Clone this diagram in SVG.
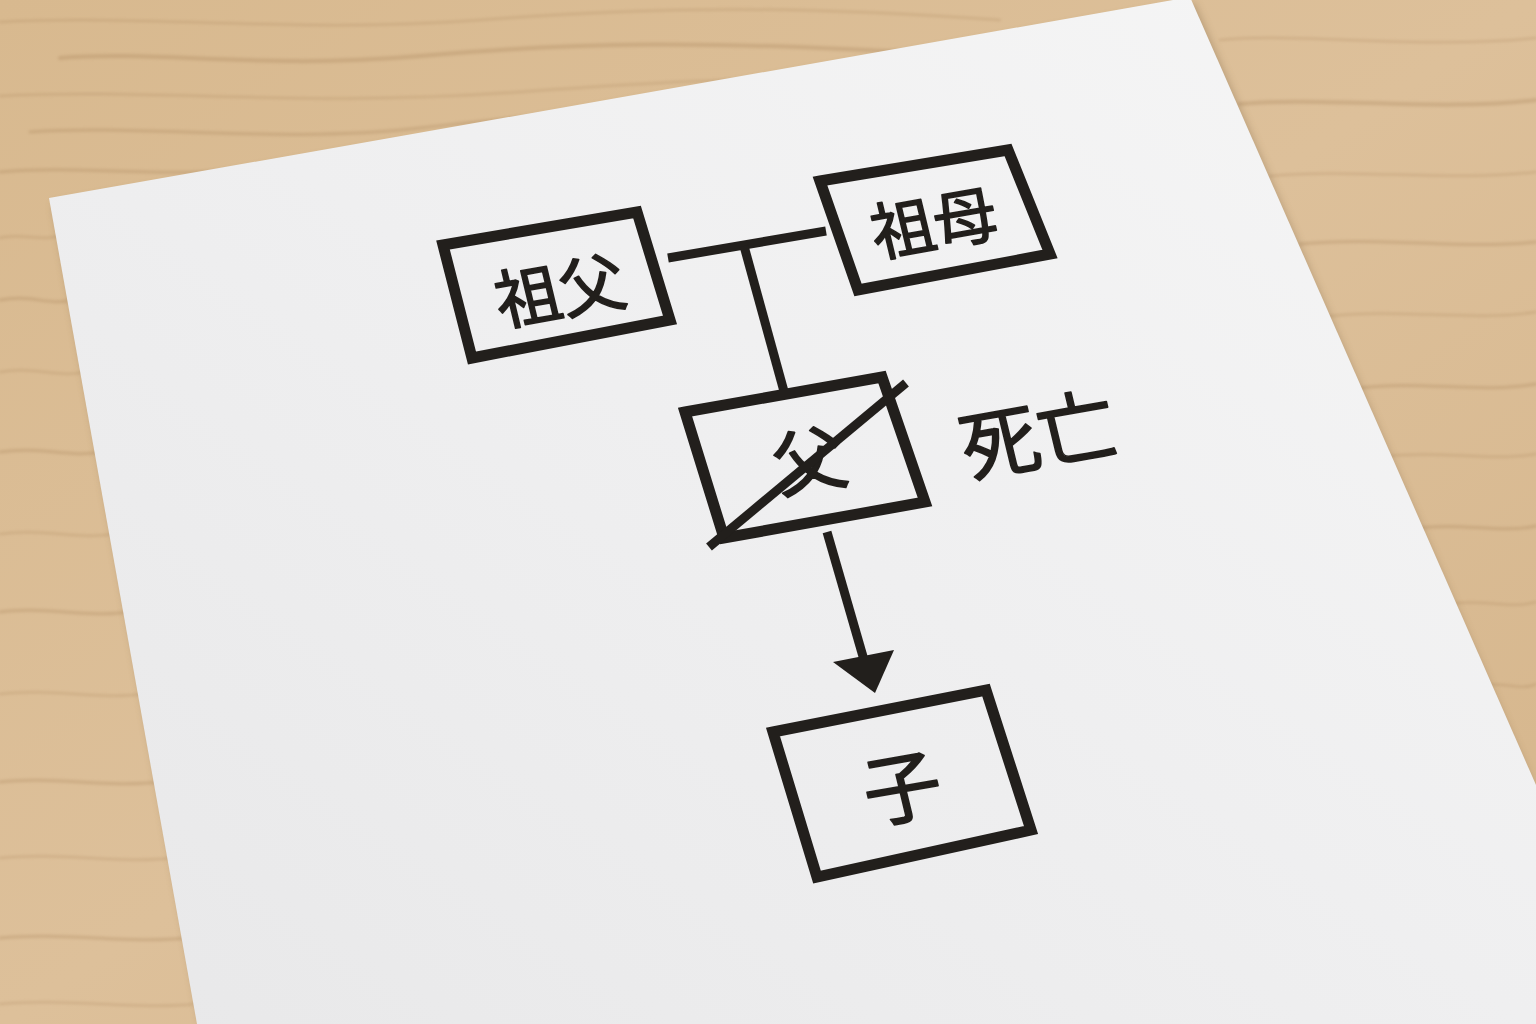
<svg xmlns="http://www.w3.org/2000/svg" width="1536" height="1024" viewBox="0 0 1536 1024">
  <defs>
    <linearGradient id="wood" x1="0" y1="0" x2="1" y2="1">
      <stop offset="0" stop-color="#d8b98f"/>
      <stop offset="0.5" stop-color="#ddc09a"/>
      <stop offset="1" stop-color="#d5b58b"/>
    </linearGradient>
    <linearGradient id="paper" x1="0" y1="1" x2="1" y2="0">
      <stop offset="0" stop-color="#e8e8e9"/>
      <stop offset="0.5" stop-color="#efeff0"/>
      <stop offset="1" stop-color="#f6f6f6"/>
    </linearGradient>
    <filter id="blur" x="-10%" y="-10%" width="120%" height="120%">
      <feGaussianBlur stdDeviation="4"/>
    </filter>
    <filter id="soft" x="-5%" y="-50%" width="110%" height="200%">
      <feGaussianBlur stdDeviation="1.5"/>
    </filter>
    <style>
      .grain { fill: none; stroke: #a47f55; stroke-linecap: round; }
      .box { fill: none; stroke: #221f1c; stroke-width: 11; stroke-linejoin: miter; }
      .line { fill: none; stroke: #221f1c; stroke-width: 9; stroke-linecap: butt; }
      .lbl { font-family: "Noto Sans CJK JP", "Noto Sans CJK SC", sans-serif; font-weight: 400; fill: #221f1c; stroke: #221f1c; stroke-width: 1.6; stroke-linejoin: round; text-anchor: middle; dominant-baseline: central; }
    </style>
  </defs>

  <!-- desk -->
  <rect x="0" y="0" width="1536" height="1024" fill="url(#wood)"/>
  <g id="wood-grain" opacity="0.3" filter="url(#soft)">
    <path class="grain" stroke-width="2" d="M0,22 C150,14 300,34 480,20 S800,6 1000,20"/>
    <path class="grain" stroke-width="4" d="M60,58 C160,50 260,70 420,56 S700,40 940,54"/>
    <path class="grain" stroke-width="2" d="M0,96 C160,88 300,108 520,92 S760,78 880,86"/>
    <path class="grain" stroke-width="3" d="M30,132 C140,124 280,144 420,128 S560,114 680,120"/>
    <path class="grain" stroke-width="3" d="M0,172 C90,164 180,182 290,164"/>
    <path class="grain" stroke-width="2" d="M0,238 C20,232 40,242 58,236"/>
    <path class="grain" stroke-width="3" d="M0,300 C30,294 50,306 72,300"/>
    <path class="grain" stroke-width="2" d="M0,372 C30,366 60,378 86,372"/>
    <path class="grain" stroke-width="3" d="M0,452 C40,446 70,458 100,452"/>
    <path class="grain" stroke-width="2" d="M0,534 C40,528 80,540 114,534"/>
    <path class="grain" stroke-width="3" d="M0,612 C40,606 90,618 128,612"/>
    <path class="grain" stroke-width="2" d="M0,694 C50,688 100,700 143,694"/>
    <path class="grain" stroke-width="3" d="M0,782 C50,776 110,788 158,782"/>
    <path class="grain" stroke-width="2" d="M0,858 C60,852 120,864 172,858"/>
    <path class="grain" stroke-width="3" d="M0,938 C60,932 130,944 186,938"/>
    <path class="grain" stroke-width="2" d="M0,1004 C60,998 140,1010 196,1004"/>
    <path class="grain" stroke-width="2" d="M1220,40 C1300,32 1420,50 1536,38"/>
    <path class="grain" stroke-width="4" d="M1240,104 C1320,96 1440,112 1536,100"/>
    <path class="grain" stroke-width="2" d="M1270,176 C1350,168 1450,182 1536,172"/>
    <path class="grain" stroke-width="3" d="M1300,244 C1380,236 1460,250 1536,242"/>
    <path class="grain" stroke-width="2" d="M1330,316 C1400,308 1470,322 1536,312"/>
    <path class="grain" stroke-width="3" d="M1360,388 C1420,380 1480,394 1536,384"/>
    <path class="grain" stroke-width="2" d="M1390,456 C1440,450 1490,462 1536,454"/>
    <path class="grain" stroke-width="3" d="M1420,528 C1460,522 1500,534 1536,526"/>
    <path class="grain" stroke-width="2" d="M1450,604 C1480,598 1510,610 1536,602"/>
    <path class="grain" stroke-width="2" d="M1480,686 C1500,680 1520,692 1536,684"/>
  </g>

  <!-- paper -->
  <polygon points="53,204 1194,3 1536,792 1536,1024 201,1024" fill="#6b5234" opacity="0.35" filter="url(#blur)"/>
  <polygon id="sheet" points="49,198 1190,-3 1536,785 1536,1024 197,1024" fill="url(#paper)"/>

  <!-- connectors -->
  <g id="connectors">
    <line class="line" x1="668" y1="258" x2="826" y2="231"/>
    <line class="line" x1="744" y1="246" x2="785" y2="395"/>
    <line class="line" x1="827" y1="532" x2="864" y2="660"/>
    <polygon points="833,662 894,650 875,693" fill="#221f1c"/>
  </g>

  <!-- nodes -->
  <g id="node-sofu">
    <polygon class="box" points="443,245 637,212 670,320 472,358"/>
    <text class="lbl" font-size="65" transform="matrix(0.985 -0.174 0.233 0.972 559 287)">祖父</text>
  </g>
  <g id="node-sobo">
    <polygon class="box" points="820,181 1008,150 1050,254 858,290"/>
    <text class="lbl" font-size="63" transform="matrix(0.985 -0.174 0.233 0.972 933 219)">祖母</text>
  </g>
  <g id="node-chichi">
    <polygon class="box" points="685,412 882,377 925,502 724,538"/>
    <text class="lbl" font-size="72" transform="matrix(0.985 -0.174 0.233 0.972 808 456)">父</text>
    <line class="line" stroke-width="10" x1="709" y1="547" x2="906" y2="383"/>
  </g>
  <g id="label-shibou">
    <text class="lbl" font-size="78" transform="matrix(0.985 -0.174 0.233 0.972 1037 430)">死亡</text>
  </g>
  <g id="node-ko">
    <polygon class="box" points="773,732 986,690 1031,830 817,877"/>
    <text class="lbl" font-size="78" transform="matrix(0.985 -0.174 0.233 0.972 901 783)">子</text>
  </g>
</svg>
